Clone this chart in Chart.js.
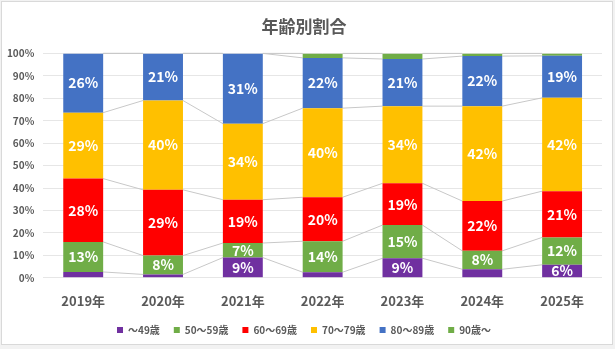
<!DOCTYPE html>
<html><head><meta charset="utf-8">
<script src="https://cdn.jsdelivr.net/npm/chart.js@4.4.1/dist/chart.umd.min.js"></script>
<style>
html,body{margin:0;padding:0;background:#f2f2f2;}
#wrap{position:absolute;left:1px;top:1px;width:610px;height:342px;background:#fff;border:1px solid #d9d9d9;}
canvas{display:block;}
</style></head><body>
<div id="wrap"><canvas id="c" width="610" height="342"></canvas></div>
<script>
const categories = ['2019年','2020年','2021年','2022年','2023年','2024年','2025年'];
const seriesNames = ['～49歳','50～59歳','60～69歳','70～79歳','80～89歳','90歳～'];
const under49 = [2.6, 1.5, 9.0, 2.5, 8.7, 3.8, 5.8];
const age50s  = [13.4, 8.4, 6.5, 13.8, 14.8, 8.2, 12.2];
const age60s  = [28.2, 29.3, 19.3, 19.6, 18.6, 22.2, 20.6];
const age70s  = [29.4, 39.8, 33.9, 39.7, 34.4, 42.3, 41.6];
const age80s  = [26.4, 21.0, 31.3, 22.4, 21.0, 22.3, 18.7];
const over90  = [0, 0, 0, 2.0, 2.5, 1.2, 1.1];
const yTicks = [0,10,20,30,40,50,60,70,80,90,100];
const colors = ['#7030A0','#70AD47','#FF0000','#FFC000','#4472C4','#70AD47'];
const seriesData = [under49, age50s, age60s, age70s, age80s, over90];

const FONT = '"Noto Sans CJK JP", "Noto Sans", sans-serif';
const GRAY = '#595959';

const seriesLines = {
  id:'seriesLines',
  beforeDatasetsDraw(chart){
    const ctx = chart.ctx;
    ctx.save();
    ctx.strokeStyle = '#c8c8c8';
    ctx.lineWidth = 1;
    chart.data.datasets.forEach((ds, di) => {
      const meta = chart.getDatasetMeta(di);
      for (let i = 0; i < meta.data.length - 1; i++) {
        const a = meta.data[i], b = meta.data[i+1];
        ctx.beginPath();
        ctx.moveTo(a.x + a.width/2, a.y);
        ctx.lineTo(b.x - b.width/2, b.y);
        ctx.stroke();
      }
    });
    ctx.restore();
  }
};

const barLabels = {
  id:'barLabels',
  afterDatasetsDraw(chart){
    const ctx = chart.ctx;
    ctx.save();
    ctx.fillStyle = '#ffffff';
    ctx.font = 'bold 14px ' + FONT;
    ctx.textAlign = 'center';
    ctx.textBaseline = 'middle';
    chart.data.datasets.forEach((ds, di) => {
      const meta = chart.getDatasetMeta(di);
      meta.data.forEach((el, i) => {
        const v = ds.data[i];
        if (v < 5) return;
        const cy = (el.y + el.base) / 2;
        ctx.fillText(Math.round(v) + '%', el.x, cy);
      });
    });
    ctx.restore();
  }
};

new Chart(document.getElementById('c'), {
  type:'bar',
  data:{
    labels: categories,
    datasets: seriesNames.map((n, i) => ({
      label: n,
      data: seriesData[i],
      backgroundColor: colors[i],
      borderWidth: 0,
      barPercentage: 0.5,
      categoryPercentage: 1.0
    }))
  },
  options:{
    responsive:false,
    animation:false,
    layout:{padding:{left:4, right:10, top:0, bottom:-1}},
    plugins:{
      title:{display:true, text:'年齢別割合', color:GRAY, font:{family:FONT, size:17, weight:'bold'}, padding:{top:14, bottom:17}},
      legend:{position:'bottom', labels:{usePointStyle:true, pointStyle:'rect', boxWidth:6, boxHeight:6, padding:14, color:GRAY, font:{family:FONT, size:10, weight:'bold'}}},
      tooltip:{enabled:false}
    },
    scales:{
      x:{stacked:true, grid:{display:false}, border:{display:false},
         afterFit(s){ s.height -= 4.4; },
         ticks:{color:GRAY, font:{family:FONT, size:13, weight:'bold'}, padding:7}},
      y:{stacked:true, min:0, max:100, afterBuildTicks(ax){ ax.ticks = yTicks.map(v=>({value:v})); },
         afterFit(s){ s.width = 37.3; },
         grid:{color:'#e6e6e6', drawTicks:false}, border:{display:false},
         ticks:{color:GRAY, font:{family:FONT, size:10, weight:'bold'}, padding:9, callback:v=>v+'%'}}
    }
  },
  plugins:[seriesLines, barLabels]
});
</script>
</body></html>
